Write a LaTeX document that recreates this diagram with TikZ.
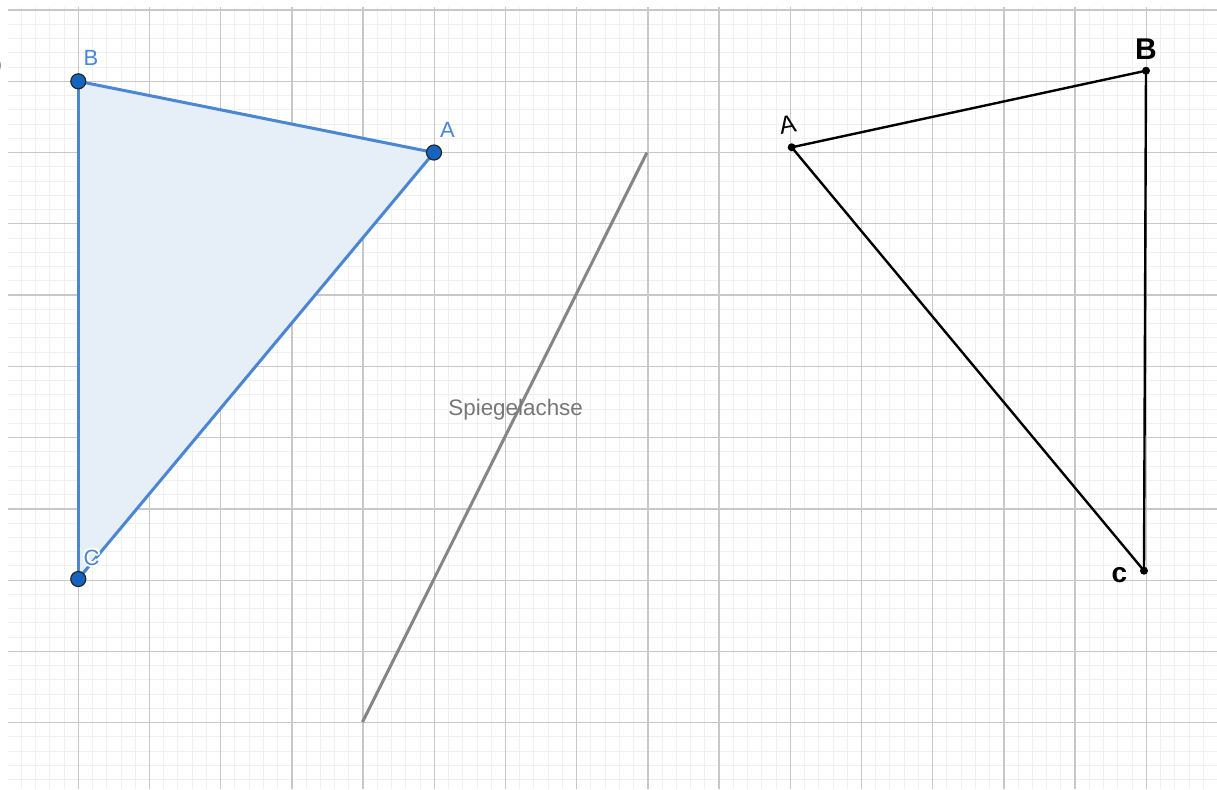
\documentclass[tikz,border=0pt]{standalone}
\usepackage{fontspec}
\setmainfont{Liberation Sans}
\begin{document}
\begin{tikzpicture}[x=0.5pt,y=-0.5pt,
  minorgrid/.style={draw=gridminor,line width=0.5pt},
  majorgrid/.style={draw=gridmajor,line width=0.65pt},
  geoedge/.style={draw=geoblue,line width=1.5pt,line cap=round},
  geopoint/.style={circle,fill=geodark,draw=black!85,line width=0.6pt,inner sep=0pt,minimum size=7.5pt},
  geolabel/.style={text=geoblue,font=\fontsize{11}{13}\selectfont,anchor=base,inner sep=0pt},
  halo/.style={text=white,font=\fontsize{11}{13}\selectfont,anchor=base,inner sep=0pt},
  handedge/.style={draw=black,line width=1.2pt,line cap=round},
  handpoint/.style={circle,fill=black,inner sep=0pt,minimum size=4pt},
  handlabel/.style={text=black,inner sep=0pt,anchor=base},
]
\definecolor{gridminor}{HTML}{F0F0F0}
\definecolor{gridmajor}{HTML}{C8C8C8}
\definecolor{geoblue}{HTML}{4A86D2}
\definecolor{geofill}{HTML}{E6EEF8}
\definecolor{geodark}{HTML}{1565C0}
\definecolor{axisgray}{HTML}{858585}
\definecolor{textgray}{HTML}{777777}
\useasboundingbox (0,0) rectangle (1217,789);
\fill[white] (0,0) rectangle (1217,789);
% grid
\begin{scope}
\clip (8,7) rectangle (1217,789);
\foreach \k in {-5,...,80} {\draw[minorgrid] ({78.3+14.24*\k},0) -- ({78.3+14.24*\k},789);}
\foreach \k in {-1,...,56} {\draw[minorgrid] (0,{10+14.254*\k}) -- (1217,{10+14.254*\k});}
\foreach \k in {-1,...,16} {\draw[majorgrid] ({78.3+71.2*\k},0) -- ({78.3+71.2*\k},789);}
\foreach \k in {0,...,11} {\draw[majorgrid] (0,{10+71.27*\k}) -- (1217,{10+71.27*\k});}
\end{scope}
\node[text=textgray,font=\fontsize{8}{9}\selectfont,anchor=base] (zero) at (-3,71) {0};
% left triangle
\coordinate (B) at (78.3,81.3);
\coordinate (A) at (434,152.5);
\coordinate (C) at (78.3,579);
\fill[geofill] (B) -- (A) -- (C) -- cycle;
\draw[geoedge] (B) -- (A);
\draw[geoedge] (A) -- (C);
\draw[geoedge] (C) -- (B);
\node[geopoint] (Bp) at (B) {};
\node[geopoint] (Ap) at (A) {};
\node[geopoint] (Cp) at (C) {};
\node[geolabel] (Bl) at (91,65) {B};
\node[geolabel] (Al) at (447.5,137) {A};
\foreach \dx/\dy in {-2/0,2/0,0/-2,0/2,-1.5/-1.5,1.5/1.5,-1.5/1.5,1.5/-1.5}
  {\node[halo] at (91.5+\dx,565+\dy) {C};}
\node[geolabel] (Cl) at (91.5,565) {C};
% mirror axis
\coordinate (S1) at (362.5,722);
\coordinate (S2) at (647,152.5);
\draw[draw=axisgray,line width=1.5pt] (S1) -- (S2);
\node[text=textgray,font=\fontsize{11.2}{13}\selectfont,anchor=base west,inner sep=0pt] (lab) at (448,415) {Spiegelachse};
% hand-drawn triangle
\coordinate (A2) at (791.7,147.3);
\coordinate (B2) at (1146,70.7);
\coordinate (C2) at (1144,570.7);
\draw[handedge] (A2) -- (B2);
\draw[handedge] (B2) -- (C2);
\draw[handedge] (C2) -- (A2);
\node[handpoint] (A2p) at (A2) {};
\node[handpoint] (B2p) at (B2) {};
\node[handpoint] (C2p) at (C2) {};
\node[handlabel,font=\fontsize{12.5}{14}\selectfont,rotate=10] (A2l) at (789,133) {A};
\node[handlabel,font=\bfseries\fontsize{15}{17}\selectfont] (B2l) at (1146,59) {B};
\node[handlabel,font=\bfseries\fontsize{14}{16}\selectfont] (C2l) at (1119.5,582) {c};
\end{tikzpicture}
\end{document}
